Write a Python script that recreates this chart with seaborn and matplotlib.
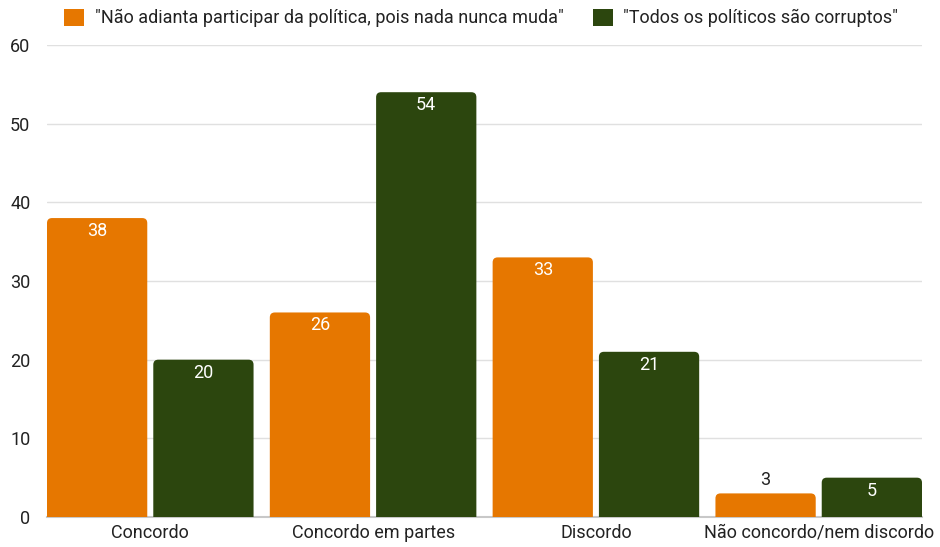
import matplotlib
matplotlib.use("Agg")
import matplotlib.pyplot as plt
from matplotlib.patches import FancyBboxPatch, Patch
import seaborn as sns
import pandas as pd

categories = ["Concordo", "Concordo em partes", "Discordo", "Não concordo/nem discordo"]
series_names = ['"Não adianta participar da política, pois nada nunca muda"',
                '"Todos os políticos são corruptos"']
nada_muda = [38, 26, 33, 3]
corruptos = [20, 54, 21, 5]
colors = ["#E67700", "#2C460E"]

df = pd.DataFrame({
    "categoria": categories * 2,
    "serie": [series_names[0]] * 4 + [series_names[1]] * 4,
    "valor": nada_muda + corruptos,
})

sns.set_theme(style="white")
plt.rcParams["font.family"] = ["Roboto", "DejaVu Sans"]
FS = 13

fig = plt.figure(figsize=(9.4, 5.47), dpi=100)
ax = fig.add_axes([47 / 940, 30 / 547, 875 / 940, 472 / 547])

sns.barplot(data=df, x="categoria", y="valor", hue="serie", palette=colors,
            saturation=1, width=0.954, gap=0.0566, legend=False, ax=ax,
            errorbar=None)

xpad = 0.4635
ax.set_ylim(0, 60)
ax.set_xlim(-xpad, 3 + xpad)
ax.set_yticks(range(0, 61, 10))
ax.yaxis.grid(True, color="#e0e0e0", linewidth=1)
ax.set_axisbelow(True)
for s in ["top", "right", "left"]:
    ax.spines[s].set_visible(False)
ax.spines["bottom"].set_color("#c8c8c8")
ax.spines["bottom"].set_linewidth(1.5)
ax.set_xlabel("")
ax.set_ylabel("")
ax.tick_params(axis="both", length=0, labelsize=FS, colors="#222222")
ax.tick_params(axis="x", pad=5)
ax.tick_params(axis="y", pad=12)

# rounded-top bars: replace each rectangle with a rounded box extending below zero
px_per_x = 875 / (3 + 2 * xpad)
px_per_y = 472 / 60
radius_px = 5
rx = radius_px / px_per_x
aspect = px_per_x / px_per_y
for p in list(ax.patches):
    x, w, h = p.get_x(), p.get_width(), p.get_height()
    fc = p.get_facecolor()
    p.set_visible(False)
    box = FancyBboxPatch((x, -2), w, h + 2,
                         boxstyle=f"round,pad=0,rounding_size={rx}",
                         mutation_aspect=aspect, facecolor=fc, edgecolor="none",
                         zorder=3, clip_on=True)
    ax.add_patch(box)
    cx = x + w / 2
    if h >= 4:
        ax.text(cx, h - 13 / px_per_y, f"{int(round(h))}", ha="center", va="center",
                color="white", fontsize=FS, zorder=4)
    else:
        ax.text(cx, h + 4 / px_per_y, f"{int(round(h))}", ha="center", va="bottom",
                color="#222222", fontsize=FS, zorder=4)

handles = [Patch(facecolor=c, edgecolor="none") for c in colors]
fig.legend(handles, series_names, loc="center", bbox_to_anchor=(0.512, 1 - 18 / 547),
           ncol=2, frameon=False, fontsize=FS, handlelength=1.1, handleheight=1.1,
           handletextpad=0.6, columnspacing=1.6, labelcolor="#222222")

fig.savefig("out.png", dpi=100)
